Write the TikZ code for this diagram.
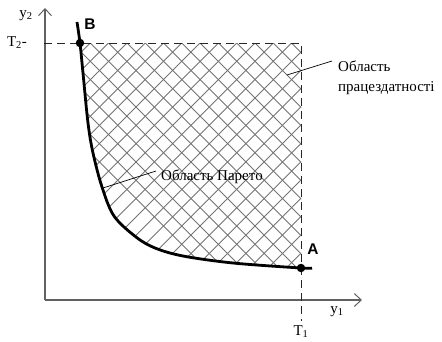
\documentclass[tikz,border=0pt]{standalone}
\usepackage{fontspec}
\setmainfont{Liberation Serif}
\newfontfamily\labsans{Liberation Sans}
\usetikzlibrary{arrows.meta}
\begin{document}
\begin{tikzpicture}[x=1pt,y=-1pt,
  axis/.style={draw=black!62, line width=1.3pt, -{Straight Barb[length=7pt,width=13pt,line width=1pt]}},
  dashline/.style={draw=black!85, line width=0.9pt, dash pattern=on 8pt off 5pt},
  hatch/.style={draw=black!55, line width=0.9pt},
  curve/.style={draw=black, line width=2.8pt},
  dot/.style={circle, fill=black, inner sep=0pt, minimum size=8.5pt},
  lbl/.style={font=\fontsize{15}{20}\selectfont, text=black, inner sep=0pt},
  pt/.style={font=\labsans\bfseries\fontsize{15.5}{17}\selectfont, inner sep=0pt},
  leader/.style={draw=black, line width=0.7pt}]
\useasboundingbox (0,0) rectangle (442,341);
% hatching
\begin{scope}
  \clip plot[smooth,tension=0.55] coordinates {(80,43) (83,73) (88,123) (93,153) (102,187) (114,216) (136,237) (155,248) (183,256) (233,263) (301,268)} -- (301,43) -- cycle;
  \foreach \k in {-15,...,15} {
    \pgfmathsetmacro{\t}{255+\k*18.3}
    \draw[hatch] (\t,43) -- ++(240,240);
    \draw[hatch] (\t,43) -- ++(-240,240);
  }
\end{scope}
% axes
\coordinate (O) at (45,300);
\coordinate (Ytop) at (45,8);
\coordinate (Xend) at (362,300);
\draw[axis] (O) -- (Ytop);
\draw[axis] (O) -- (Xend);
% dashed bounds
\coordinate (T2a) at (44,43);
\coordinate (TT) at (301,43);
\coordinate (T1b) at (301,321);
\draw[dashline] (T2a) -- (TT) -- (T1b);
% Pareto curve
\draw[curve] plot[smooth,tension=0.55] coordinates {(77,22) (80,43) (83,73) (88,123) (93,153) (102,187) (114,216) (136,237) (155,248) (183,256) (233,263) (301,268) (312,268)};
\node[dot] (B) at (80,43) {};
\node[dot] (A) at (301,268) {};
\node[pt] (Blab) at (90,24) {B};
\node[pt] (Alab) at (313,249) {A};
% axis labels
\node[lbl] (y2) at (26,16) {y\textsubscript{2}};
\node[lbl] (T2) at (17,43) {T\textsubscript{2}-};
\node[lbl] (y1) at (337,312) {y\textsubscript{1}};
\node[lbl] (T1) at (301,332) {T\textsubscript{1}};
% region labels
\node[lbl, anchor=west, align=left] (work) at (338,78) {Область\\працездатності};
\coordinate (w1) at (332,61);
\coordinate (w2) at (287,75);
\draw[leader] (w1) -- (w2);
\node[lbl, anchor=west] (par) at (161,177) {Область Парето};
\coordinate (p1) at (156,171);
\coordinate (p2) at (103,188);
\draw[leader] (p1) -- (p2);
\end{tikzpicture}
\end{document}
